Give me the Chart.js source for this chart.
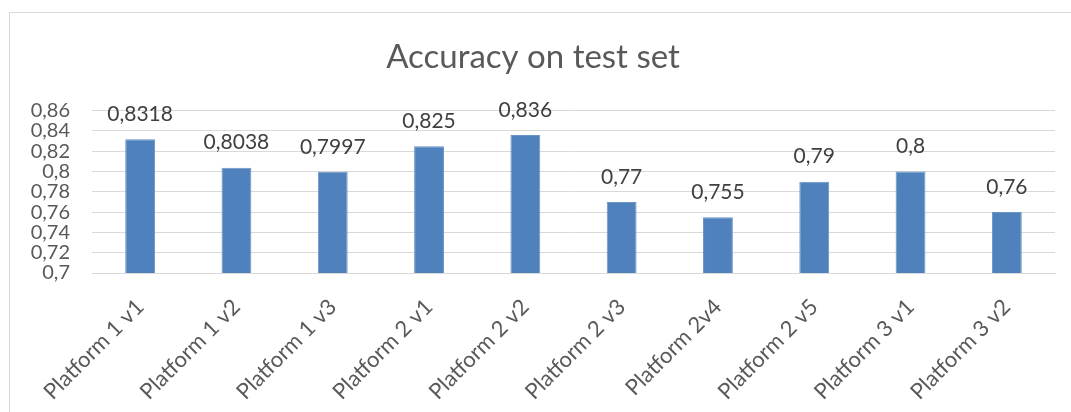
<!DOCTYPE html>
<html>
<head>
<meta charset="utf-8">
<script src="https://cdn.jsdelivr.net/npm/chart.js@4"></script>
<style>
  html, body { margin: 0; padding: 0; background: #fff; overflow: hidden; }
  #frame { position: absolute; left: 9px; top: 12px; width: 1074px; height: 420px; border: 1px solid #d9d9d9; }
  #wrap { position: absolute; left: 1px; top: 0; width: 1072px; height: 400px; }
</style>
</head>
<body>
<div id="frame"><div id="wrap"><canvas id="bar-chart"></canvas></div></div>
<script>
// chart values
const categories = ["Platform 1 v1", "Platform 1 v2", "Platform 1 v3", "Platform 2 v1", "Platform 2 v2",
                    "Platform 2 v3", "Platform 2v4", "Platform 2 v5", "Platform 3 v1", "Platform 3 v2"];
const accuracy = [0.8318, 0.8038, 0.7997, 0.825, 0.836, 0.77, 0.755, 0.79, 0.8, 0.76];
const yTicks = [0.7, 0.72, 0.74, 0.76, 0.78, 0.8, 0.82, 0.84, 0.86];

const fmt = v => String(Number(v.toFixed(4))).replace('.', ',');
const font = "Lato, 'Open Sans', sans-serif";

const valueLabels = {
    id: 'valueLabels',
    afterDatasetsDraw(chart) {
        const ctx = chart.ctx;
        const meta = chart.getDatasetMeta(0);
        ctx.save();
        ctx.font = "21px " + font;
        ctx.fillStyle = '#404040';
        ctx.textAlign = 'center';
        ctx.textBaseline = 'middle';
        meta.data.forEach((bar, i) => {
            ctx.fillText(fmt(accuracy[i]), bar.x, bar.y - 25);
        });
        ctx.restore();
    }
};

new Chart(document.getElementById("bar-chart"), {
    type: 'bar',
    data: {
        labels: categories,
        datasets: [{
            label: "Accuracy",
            data: accuracy,
            backgroundColor: '#4f81bd',
            borderColor: '#6b93c6',
            borderWidth: 1,
            barPercentage: 0.31,
            categoryPercentage: 1
        }]
    },
    options: {
        responsive: true,
        maintainAspectRatio: false,
        animation: false,
        layout: {padding: {left: 0, right: 28, top: 0, bottom: 0}},
        plugins: {
            legend: {display: false},
            tooltip: {enabled: false},
            title: {
                display: true,
                text: 'Accuracy on test set',
                color: '#595959',
                font: {family: font, size: 33, weight: 'normal'},
                padding: {top: 25, bottom: 33}
            }
        },
        scales: {
            y: {
                min: 0.7,
                max: 0.86,
                afterBuildTicks: s => { s.ticks = yTicks.map(v => ({value: v})); },
                afterFit: s => { s.width = 81; },
                border: {display: false},
                grid: {color: '#d9d9d9', drawTicks: false},
                ticks: {
                    autoSkip: false,
                    padding: 22,
                    color: '#595959',
                    font: {family: font, size: 20},
                    callback: v => fmt(v)
                }
            },
            x: {
                afterFit: s => { s.height = 140; },
                border: {color: '#d9d9d9'},
                grid: {display: false},
                ticks: {
                    autoSkip: false,
                    minRotation: 45,
                    maxRotation: 45,
                    padding: 13,
                    color: '#595959',
                    font: {family: font, size: 22}
                }
            }
        }
    },
    plugins: [valueLabels]
});
</script>
</body>
</html>
